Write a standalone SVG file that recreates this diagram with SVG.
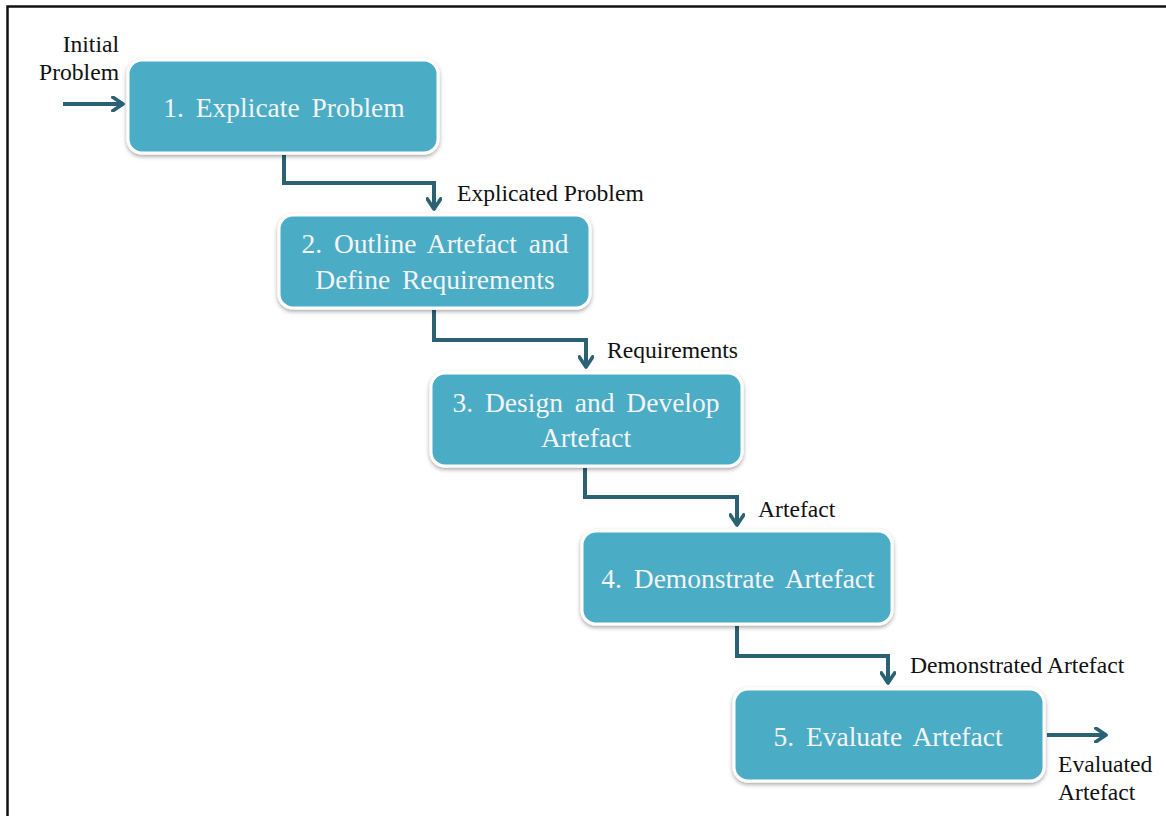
<svg xmlns="http://www.w3.org/2000/svg" width="1166" height="816" viewBox="0 0 1166 816">
<defs>
<filter id="sh" x="-10%" y="-10%" width="120%" height="130%">
<feDropShadow dx="0" dy="2" stdDeviation="2" flood-color="#000" flood-opacity="0.35"/>
</filter>
<marker id="ah" viewBox="0 0 10 10" refX="7" refY="5" markerWidth="4.2" markerHeight="4.2" orient="auto" markerUnits="strokeWidth">
<path d="M1,1 L7,5 L1,9" fill="none" stroke="#2B6273" stroke-width="2.2" stroke-linecap="round" stroke-linejoin="round"/>
</marker>
<style>
.box{fill:#4BACC6;stroke:#FFFFFF;stroke-width:3;filter:url(#sh)}
.bt{font-family:"Liberation Serif",serif;font-size:27.5px;fill:#F4F4F4;text-anchor:middle;word-spacing:5px}
.lb{font-family:"Liberation Serif",serif;font-size:23.6px;fill:#111}
.cn{fill:none;stroke:#2B6273;stroke-width:4;marker-end:url(#ah)}
</style>
</defs>
<rect width="1166" height="816" fill="#fff"/>
<path d="M7.5,816 V6.5 H1166" fill="none" stroke="#111" stroke-width="2.5"/>
<g id="connectors">
<path class="cn" d="M63,104 H123"/>
<path class="cn" d="M284,155 V183 H434 V209"/>
<path class="cn" d="M434,310 V340 H586 V367"/>
<path class="cn" d="M585,468 V497 H737 V525"/>
<path class="cn" d="M737,626 V656 H888 V683"/>
<path class="cn" d="M1047,735 H1106"/>
</g>
<g id="n1">
<rect class="box" x="128" y="60" width="310" height="93" rx="14"/>
<text class="bt" x="284" y="117">1. Explicate Problem</text>
</g>
<g id="n2">
<rect class="box" x="279" y="215" width="311" height="93" rx="14"/>
<text class="bt" x="435" y="253">2. Outline Artefact and</text>
<text class="bt" x="435" y="289">Define Requirements</text>
</g>
<g id="n3">
<rect class="box" x="431" y="373" width="311" height="93" rx="14"/>
<text class="bt" x="586" y="412">3. Design and Develop</text>
<text class="bt" x="586" y="447">Artefact</text>
</g>
<g id="n4">
<rect class="box" x="582" y="531" width="310" height="93" rx="14"/>
<text class="bt" x="738" y="588">4. Demonstrate Artefact</text>
</g>
<g id="n5">
<rect class="box" x="734" y="689" width="310" height="92" rx="14"/>
<text class="bt" x="888" y="746">5. Evaluate Artefact</text>
</g>
<g id="labels">
<text class="lb" x="119" y="52" text-anchor="end">Initial</text>
<text class="lb" x="119" y="80" text-anchor="end">Problem</text>
<text class="lb" x="457" y="201">Explicated Problem</text>
<text class="lb" x="607" y="358">Requirements</text>
<text class="lb" x="758" y="517">Artefact</text>
<text class="lb" x="910" y="673">Demonstrated Artefact</text>
<text class="lb" x="1058" y="772">Evaluated</text>
<text class="lb" x="1058" y="800">Artefact</text>
</g>
</svg>
